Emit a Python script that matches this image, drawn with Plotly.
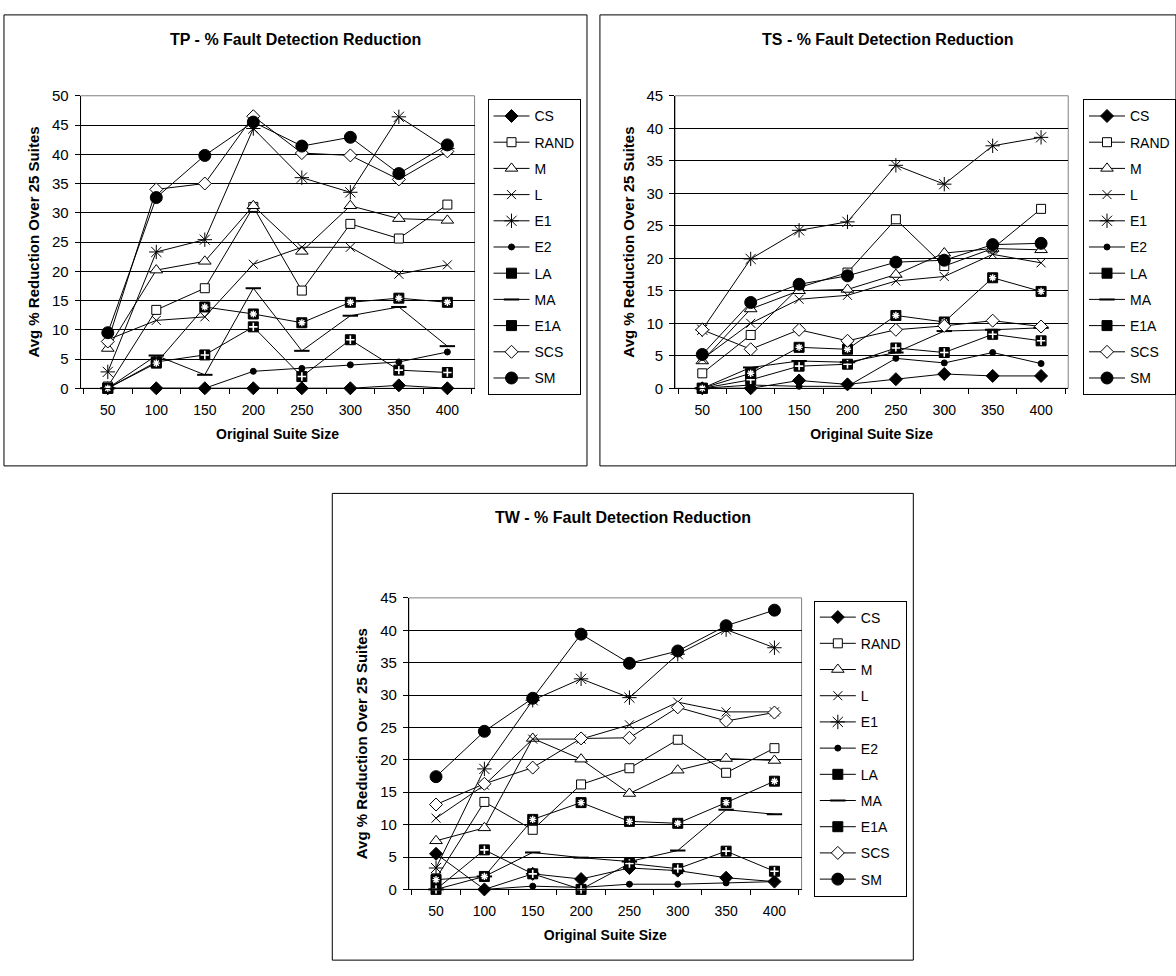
import plotly.graph_objects as go

FONT = "Liberation Sans, Arial, sans-serif"
W, H = 1176, 976

sizes = ["50", "100", "150", "200", "250", "300", "350", "400"]
series = ["CS", "RAND", "M", "L", "E1", "E2", "LA", "MA", "E1A", "SCS", "SM"]

# TP
TP_CS = [0, 0, 0, 0, 0, 0, 0.5, 0]
TP_RAND = [0.3, 13.4, 17.1, 31.0, 16.7, 28.1, 25.6, 31.4]
TP_M = [6.8, 20.2, 21.7, 31.2, 23.4, 31.2, 29.0, 28.7]
TP_L = [8.3, 11.6, 12.2, 21.2, 24.1, 24.1, 19.5, 21.1]
TP_E1 = [2.8, 23.3, 25.4, 44.4, 36.0, 33.5, 46.4, 41.0]
TP_E2 = [0, 0, 0, 2.9, 3.4, 4.0, 4.5, 6.2]
TP_LA = [0, 4.5, 5.7, 10.5, 2.0, 8.3, 3.1, 2.7]
TP_MA = [0, 5.6, 2.3, 17.1, 6.4, 12.4, 13.9, 7.2]
TP_E1A = [0, 4.3, 13.9, 12.7, 11.2, 14.7, 15.4, 14.7]
TP_SCS = [8.0, 34.0, 35.0, 46.5, 40.2, 39.8, 35.7, 40.5]
TP_SM = [9.5, 32.6, 39.8, 45.5, 41.4, 42.9, 36.7, 41.6]

# TS
TS_CS = [0, 0, 1.2, 0.6, 1.4, 2.2, 1.9, 1.9]
TS_RAND = [2.3, 8.2, 15.5, 17.8, 26.0, 18.8, 21.5, 27.6]
TS_M = [4.2, 12.2, 15.0, 15.2, 17.5, 20.8, 21.5, 21.3]
TS_L = [4.5, 10.0, 13.7, 14.3, 16.5, 17.2, 20.6, 19.3]
TS_E1 = [9.0, 19.9, 24.3, 25.6, 34.3, 31.4, 37.3, 38.6]
TS_E2 = [0, 0.5, 0.3, 0.3, 4.6, 3.9, 5.5, 3.8]
TS_LA = [0, 1.3, 3.4, 3.7, 6.2, 5.5, 8.3, 7.3]
TS_MA = [0, 3.2, 4.2, 4.0, 5.5, 8.8, 9.0, 9.3]
TS_E1A = [0, 2.3, 6.3, 6.0, 11.2, 10.2, 17.0, 14.9]
TS_SCS = [9.0, 6.0, 9.0, 7.3, 9.0, 9.6, 10.4, 9.5]
TS_SM = [5.2, 13.2, 16.0, 17.3, 19.4, 19.7, 22.1, 22.3]

# TW
TW_CS = [5.5, 0, 2.4, 1.6, 3.3, 2.9, 1.8, 1.2]
TW_RAND = [1.7, 13.5, 9.2, 16.2, 18.7, 23.1, 18.0, 21.8]
TW_M = [7.5, 9.5, 23.3, 20.1, 14.8, 18.4, 20.2, 19.9]
TW_L = [11.0, 16.1, 23.2, 23.2, 25.4, 28.9, 27.4, 27.4]
TW_E1 = [3.3, 18.6, 29.2, 32.5, 29.6, 36.3, 40.1, 37.3]
TW_E2 = [0, 0, 0.5, 0.3, 0.8, 0.8, 1.0, 1.2]
TW_LA = [0, 6.1, 2.4, 0, 4.0, 3.2, 5.9, 2.8]
TW_MA = [0, 2.0, 5.7, 4.9, 4.3, 6.0, 12.3, 11.6]
TW_E1A = [1.5, 2.0, 10.8, 13.4, 10.5, 10.2, 13.4, 16.7]
TW_SCS = [13.1, 16.3, 18.8, 23.3, 23.4, 28.1, 26.0, 27.3]
TW_SM = [17.4, 24.4, 29.5, 39.4, 34.9, 36.8, 40.7, 43.1]

panels = [
    dict(name="TP", data=[TP_CS, TP_RAND, TP_M, TP_L, TP_E1, TP_E2, TP_LA, TP_MA, TP_E1A, TP_SCS, TP_SM],
         ymax=50, box=(4, 590, 6, 465), plot=(81, 477, 88.3, 386), legend=(490, 92)),
    dict(name="TS", data=[TS_CS, TS_RAND, TS_M, TS_L, TS_E1, TS_E2, TS_LA, TS_MA, TS_E1A, TS_SCS, TS_SM],
         ymax=45, box=(603, 1182, 6, 465), plot=(678.6, 1073.7, 88.3, 386), legend=(1089, 92)),
    dict(name="TW", data=[TW_CS, TW_RAND, TW_M, TW_L, TW_E1, TW_E2, TW_LA, TW_MA, TW_E1A, TW_SCS, TW_SM],
         ymax=45, box=(334, 918, 493, 968), plot=(411, 805.7, 599.3, 896), legend=(818, 602)),
]

styles = {
    "CS": dict(symbol="diamond", size=10, color="black", line=dict(color="black", width=1)),
    "RAND": dict(symbol="square", size=9, color="white", line=dict(color="black", width=1)),
    "M": dict(symbol="triangle-up", size=11, color="white", line=dict(color="black", width=1)),
    "L": dict(symbol="x-thin-open", size=9, color="black", line=dict(color="black", width=1)),
    "E1": dict(symbol="asterisk-open", size=12, color="black", line=dict(color="black", width=1)),
    "E2": dict(symbol="circle", size=6, color="black", line=dict(color="black", width=1)),
    "LA": dict(symbol="square", size=10, color="black", line=dict(color="black", width=1)),
    "MA": dict(symbol="line-ew", size=11, color="black", line=dict(color="black", width=2)),
    "E1A": dict(symbol="square", size=10, color="black", line=dict(color="black", width=1)),
    "SCS": dict(symbol="diamond", size=10, color="white", line=dict(color="black", width=1)),
    "SM": dict(symbol="circle", size=12, color="black", line=dict(color="black", width=1)),
}
# white glyph drawn inside the black squares
inner = {
    "LA": dict(symbol="cross-thin-open", size=6, color="white", line=dict(color="white", width=1.6)),
    "E1A": dict(symbol="asterisk-open", size=6, color="white", line=dict(color="white", width=1.4)),
}

fig = go.Figure()
layout = dict(
    width=W, height=H, margin=dict(l=0, r=0, t=0, b=0),
    paper_bgcolor="white", plot_bgcolor="white",
    font=dict(family=FONT, size=14, color="black"),
    shapes=[], annotations=[],
)

for i, p in enumerate(panels):
    sfx = "" if i == 0 else str(i + 1)
    xa, ya = "x" + sfx, "y" + sfx
    lg = "legend" + sfx
    for name, vals in zip(series, p["data"]):
        fig.add_trace(go.Scatter(
            x=sizes, y=vals, name=name, mode="lines+markers",
            line=dict(color="black", width=1),
            marker=styles[name], xaxis=xa, yaxis=ya, legend=lg,
            legendgroup=p["name"] + name, cliponaxis=False,
        ))
        if name in inner:
            fig.add_trace(go.Scatter(
                x=sizes, y=vals, name=name, mode="markers", marker=inner[name],
                xaxis=xa, yaxis=ya, legend=lg, legendgroup=p["name"] + name,
                showlegend=False, cliponaxis=False, hoverinfo="skip",
            ))
    x0, x1, yt, yb = p["plot"]
    layout["xaxis" + sfx] = dict(
        domain=[x0 / W, x1 / W], anchor=ya, type="category", tickson="boundaries",
        ticks="outside", ticklen=5, tickcolor="black", showline=True, linecolor="black",
        linewidth=1, showgrid=False, zeroline=False, tickfont=dict(size=14),
        ticklabelstandoff=9,
        title=dict(text="<b>Original Suite Size</b>", font=dict(size=14), standoff=12),
    )
    layout["yaxis" + sfx] = dict(
        domain=[1 - yb / H, 1 - yt / H], anchor=xa, range=[0, p["ymax"]], dtick=5,
        ticks="outside", ticklen=5, tickcolor="black", showline=True, linecolor="black",
        linewidth=1, showgrid=True, gridcolor="black", gridwidth=1, zeroline=False,
        tickfont=dict(size=15), ticklabelstandoff=3,
        title=dict(text="<b>Avg % Reduction Over 25 Suites</b>", font=dict(size=15), standoff=8),
    )
    lx, ly = p["legend"]
    layout[lg] = dict(
        x=lx / W, y=1 - ly / H, xanchor="left", yanchor="top", xref="paper", yref="paper",
        bordercolor="black", borderwidth=1, bgcolor="white", tracegroupgap=5,
        font=dict(size=14), itemwidth=36,
    )
    bx0, bx1, by0, by1 = p["box"]
    layout["shapes"].append(dict(type="rect", xref="paper", yref="paper",
                                 x0=bx0 / W, x1=bx1 / W, y0=1 - by1 / H, y1=1 - by0 / H,
                                 line=dict(color="black", width=1), layer="below"))
    # plot-area border (grey, top/right)
    layout["shapes"].append(dict(type="rect", xref=xa + " domain", yref=ya + " domain",
                                 x0=0, x1=1, y0=0, y1=1,
                                 line=dict(color="#808080", width=1), layer="below"))
    layout["annotations"].append(dict(
        text="<b>%s - %% Fault Detection Reduction</b>" % p["name"], xref="paper", yref="paper",
        x=(bx0 + min(bx1, W + 6)) / 2 / W, y=1 - (by0 + 25) / H, showarrow=False,
        xanchor="center", yanchor="middle", font=dict(size=16)))

fig.update_layout(**layout)
fig.write_html("out.html")
